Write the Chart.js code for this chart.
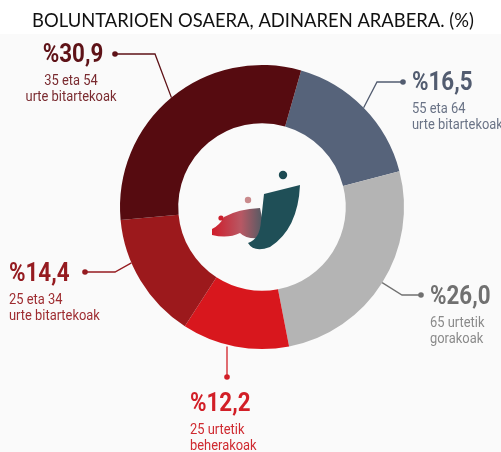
<!DOCTYPE html>
<html>
<head>
<meta charset="utf-8">
<script src="https://cdn.jsdelivr.net/npm/chart.js@4"></script>
<style>
  html, body { margin: 0; padding: 0; background: #ffffff; }
  #wrap { width: 501px; height: 452px; }
</style>
</head>
<body>
<div id="wrap"><canvas id="ageChart" width="501" height="452"></canvas></div>
<script>
// Data (clockwise from the slate slice)
const titleText = 'BOLUNTARIOEN OSAERA, ADINAREN ARABERA. (%)';
const categories = ['55 eta 64 urte bitartekoak', '65 urtetik gorakoak', '25 urtetik beherakoak',
  '25 eta 34 urte bitartekoak', '35 eta 54 urte bitartekoak'];
const values = [16.5, 26.0, 12.2, 14.4, 30.9];
const subLines = [
  ['55 eta 64', 'urte bitartekoak'],
  ['65 urtetik', 'gorakoak'],
  ['25 urtetik', 'beherakoak'],
  ['25 eta 34', 'urte bitartekoak'],
  ['35 eta 54', 'urte bitartekoak']
];
const sliceColors = ['#56637a', '#b4b4b4', '#d8171d', '#9c191c', '#560b10'];
const labelColors = ['#525c70', '#707070', '#d21f27', '#951b20', '#5e1217'];
const subColors = ['#6a7386', '#8a8a8a', '#cf2a30', '#9e2c30', '#7a2b30'];

// Callout layout: elbow, dot and text anchor (pixels), alignment
const callouts = [
  { elbow: [377, 82], dot: [403, 82], text: [412, 90], align: 'left' },
  { elbow: [402, 295], dot: [421, 295], text: [430, 304], align: 'left' },
  { elbow: null, dot: [227, 377], text: [190, 411], align: 'left', vertical: true },
  { elbow: [115, 272], dot: [85, 272], text: [9, 281], align: 'left', shift: 8 },
  { elbow: [155, 54], dot: [115, 54], text: [73, 62], align: 'center' }
];

function fmt(v) { return '%' + v.toFixed(1).replace('.', ','); }

function condText(ctx, txt, x, y, align, sx) {
  ctx.save();
  ctx.translate(x, y);
  ctx.scale(sx, 1);
  ctx.textAlign = align;
  ctx.fillText(txt, 0, 0);
  ctx.restore();
}

const calloutPlugin = {
  id: 'callouts',
  beforeDraw(chart) {
    const ctx = chart.ctx;
    ctx.save();
    ctx.fillStyle = '#fafafa';
    ctx.fillRect(0, 34, chart.width, chart.height - 34);
    // title (drawn here so it is not squeezed to the chart area width)
    ctx.fillStyle = '#111111';
    ctx.font = '18.4px Lato';
    ctx.textAlign = 'center';
    ctx.textBaseline = 'alphabetic';
    ctx.fillText(titleText, 253, 27);
    ctx.restore();
  },
  afterDatasetsDraw(chart) {
    const ctx = chart.ctx;
    const meta = chart.getDatasetMeta(0);
    meta.data.forEach((arc, i) => {
      const p = arc.getProps(['x', 'y', 'startAngle', 'endAngle', 'outerRadius'], true);
      const c = callouts[i];
      const a = (p.startAngle + p.endAngle) / 2 + (c.shift || 0) * Math.PI / 180;
      let ax = p.x + Math.cos(a) * p.outerRadius;
      let ay = p.y + Math.sin(a) * p.outerRadius;
      ctx.save();
      ctx.strokeStyle = labelColors[i];
      ctx.fillStyle = labelColors[i];
      ctx.lineWidth = 1.3;
      ctx.beginPath();
      if (c.vertical) {
        ctx.moveTo(c.dot[0], ay);
        ctx.lineTo(c.dot[0], c.dot[1]);
      } else {
        ctx.moveTo(ax, ay);
        ctx.lineTo(c.elbow[0], c.elbow[1]);
        ctx.lineTo(c.dot[0], c.dot[1]);
      }
      ctx.stroke();
      ctx.beginPath();
      ctx.arc(c.dot[0], c.dot[1], 2.8, 0, Math.PI * 2);
      ctx.fill();

      ctx.textBaseline = 'alphabetic';
      ctx.font = 'bold 26px Roboto';
      condText(ctx, fmt(values[i]), c.text[0], c.text[1], c.align, 0.86);
      ctx.font = '15px Roboto';
      ctx.fillStyle = subColors[i];
      const subX = c.align === 'center' ? c.text[0] - 2 : c.text[0];
      condText(ctx, subLines[i][0], subX, c.text[1] + 23, c.align, 0.86);
      condText(ctx, subLines[i][1], subX, c.text[1] + 39, c.align, 0.86);
      ctx.restore();
    });

    // centre logo
    const p0 = meta.data[0].getProps(['x', 'y'], true);
    const cx = p0.x, cy = p0.y;
    ctx.save();
    ctx.translate(cx, cy);
    const g = ctx.createLinearGradient(-50, 20, 8, 20);
    g.addColorStop(0, '#d01c2a');
    g.addColorStop(0.5, '#b85864');
    g.addColorStop(1, '#2f5c64');
    ctx.fillStyle = g;
    ctx.beginPath();
    ctx.moveTo(-50, 22);
    ctx.quadraticCurveTo(-42, 18, -38, 10);
    ctx.quadraticCurveTo(-24, 2, -2, 1);
    ctx.lineTo(4, 30);
    ctx.quadraticCurveTo(-14, 34, -22, 26);
    ctx.quadraticCurveTo(-34, 32, -50, 28);
    ctx.closePath();
    ctx.fill();
    ctx.fillStyle = '#1f4f57';
    ctx.beginPath();
    ctx.moveTo(2, -13);
    ctx.lineTo(38, -22);
    ctx.quadraticCurveTo(36, 22, 8, 40);
    ctx.quadraticCurveTo(-8, 46, -14, 36);
    ctx.quadraticCurveTo(-2, 32, -1, 14);
    ctx.closePath();
    ctx.fill();
    ctx.fillStyle = '#1c4a52';
    ctx.beginPath(); ctx.arc(21, -32, 4.2, 0, Math.PI * 2); ctx.fill();
    ctx.fillStyle = '#c98a8c';
    ctx.beginPath(); ctx.arc(-14, -7, 3.2, 0, Math.PI * 2); ctx.fill();
    ctx.fillStyle = '#cc1f2c';
    ctx.beginPath(); ctx.arc(-41, 11, 2.6, 0, Math.PI * 2); ctx.fill();
    ctx.restore();
  }
};

const ctx = document.getElementById('ageChart').getContext('2d');
const chart = new Chart(ctx, {
  type: 'doughnut',
  data: {
    labels: categories,
    datasets: [{
      data: values,
      backgroundColor: sliceColors,
      borderWidth: 0,
      hoverOffset: 0
    }]
  },
  options: {
    responsive: false,
    animation: false,
    rotation: 16,
    cutout: '59%',
    layout: { padding: { left: 120, right: 97, top: 65, bottom: 103 } },
    plugins: {
      legend: { display: false },
      tooltip: { enabled: false },
      title: { display: false }
    }
  },
  plugins: [calloutPlugin]
});
</script>
</body>
</html>
